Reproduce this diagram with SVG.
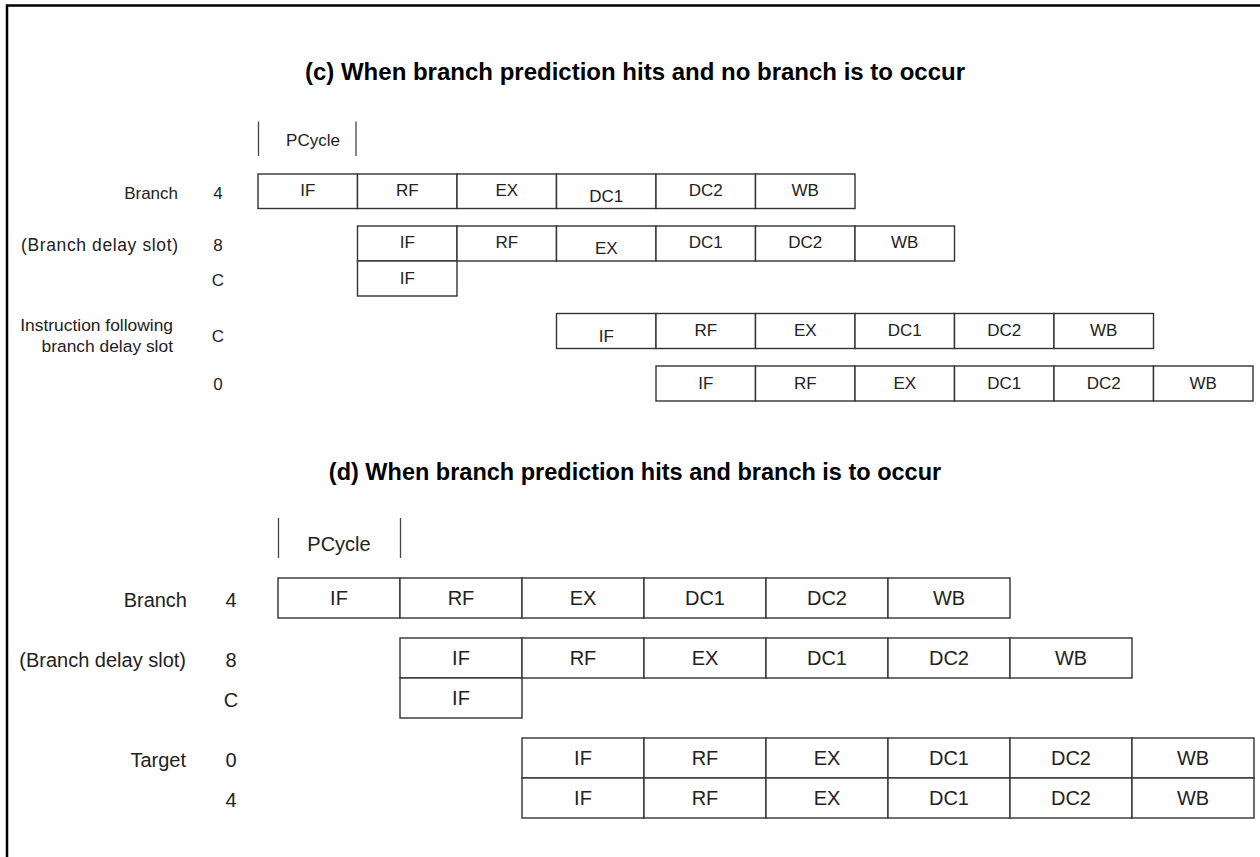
<svg xmlns="http://www.w3.org/2000/svg" width="1260" height="857" viewBox="0 0 1260 857">
<style>
.cell{fill:#fff;stroke:#333;stroke-width:1.4}
.tc{font-family:"Liberation Sans",Arial,sans-serif;font-size:17px;fill:#222;text-anchor:middle}
.td{font-family:"Liberation Sans",Arial,sans-serif;font-size:20px;fill:#222;text-anchor:middle}
.lc{font-family:"Liberation Sans",Arial,sans-serif;font-size:17px;fill:#222;text-anchor:end}
.ld{font-family:"Liberation Sans",Arial,sans-serif;font-size:20px;fill:#222;text-anchor:end}
.title{font-family:"Liberation Sans",Arial,sans-serif;font-size:24px;font-weight:bold;fill:#000;text-anchor:middle}
.tick{stroke:#444;stroke-width:1.3}
</style>
<rect width="1260" height="857" fill="#fff"/>
<path d="M7,870 V5.5 H1270" fill="none" stroke="#000" stroke-width="2.5"/>

<g id="title-c"><text class="title" x="635" y="80">(c) When branch prediction hits and no branch is to occur</text></g>
<g id="pcycle-c">
<line class="tick" x1="258.5" y1="121.5" x2="258.5" y2="156"/>
<line class="tick" x1="356" y1="121.5" x2="356" y2="156"/>
<text class="tc" x="313" y="146">PCycle</text>
</g>

<g id="labels-c">
<text class="lc" x="178" y="199">Branch</text>
<text class="tc" x="218" y="199">4</text>
<text class="lc" x="178" y="251" textLength="157" style="font-size:17.5px">(Branch delay slot)</text>
<text class="tc" x="218" y="251">8</text>
<text class="tc" x="218" y="286">C</text>
<text class="lc" x="173" y="331" style="font-size:17.4px">Instruction following</text>
<text class="lc" x="173" y="352" style="font-size:17.4px">branch delay slot</text>
<text class="tc" x="218" y="342">C</text>
<text class="tc" x="218" y="390">0</text>
</g>

<g id="c-branch">
<rect class="cell" x="258" y="174" width="99.5" height="34.5"/><text class="tc" x="307.75" y="196">IF</text>
<rect class="cell" x="357.5" y="174" width="99.5" height="34.5"/><text class="tc" x="407.25" y="196">RF</text>
<rect class="cell" x="457" y="174" width="99.5" height="34.5"/><text class="tc" x="506.75" y="196">EX</text>
<rect class="cell" x="556.5" y="174" width="99.5" height="34.5"/><text class="tc" x="606.25" y="202">DC1</text>
<rect class="cell" x="656" y="174" width="99.5" height="34.5"/><text class="tc" x="705.75" y="196">DC2</text>
<rect class="cell" x="755.5" y="174" width="99.5" height="34.5"/><text class="tc" x="805.25" y="196">WB</text>
</g>
<g id="c-delay">
<rect class="cell" x="357.5" y="226" width="99.5" height="35"/><text class="tc" x="407.25" y="248">IF</text>
<rect class="cell" x="457" y="226" width="99.5" height="35"/><text class="tc" x="506.75" y="248">RF</text>
<rect class="cell" x="556.5" y="226" width="99.5" height="35"/><text class="tc" x="606.25" y="254">EX</text>
<rect class="cell" x="656" y="226" width="99.5" height="35"/><text class="tc" x="705.75" y="248">DC1</text>
<rect class="cell" x="755.5" y="226" width="99.5" height="35"/><text class="tc" x="805.25" y="248">DC2</text>
<rect class="cell" x="855" y="226" width="99.5" height="35"/><text class="tc" x="904.75" y="248">WB</text>
</g>
<g id="c-c">
<rect class="cell" x="357.5" y="261" width="99.5" height="35"/><text class="tc" x="407.25" y="284">IF</text>
</g>
<g id="c-following">
<rect class="cell" x="556.5" y="313.5" width="99.5" height="35"/><text class="tc" x="606.25" y="342">IF</text>
<rect class="cell" x="656" y="313.5" width="99.5" height="35"/><text class="tc" x="705.75" y="336">RF</text>
<rect class="cell" x="755.5" y="313.5" width="99.5" height="35"/><text class="tc" x="805.25" y="336">EX</text>
<rect class="cell" x="855" y="313.5" width="99.5" height="35"/><text class="tc" x="904.75" y="336">DC1</text>
<rect class="cell" x="954.5" y="313.5" width="99.5" height="35"/><text class="tc" x="1004.25" y="336">DC2</text>
<rect class="cell" x="1054" y="313.5" width="99.5" height="35"/><text class="tc" x="1103.75" y="336">WB</text>
</g>
<g id="c-zero">
<rect class="cell" x="656" y="366" width="99.5" height="35"/><text class="tc" x="705.75" y="389">IF</text>
<rect class="cell" x="755.5" y="366" width="99.5" height="35"/><text class="tc" x="805.25" y="389">RF</text>
<rect class="cell" x="855" y="366" width="99.5" height="35"/><text class="tc" x="904.75" y="389">EX</text>
<rect class="cell" x="954.5" y="366" width="99.5" height="35"/><text class="tc" x="1004.25" y="389">DC1</text>
<rect class="cell" x="1054" y="366" width="99.5" height="35"/><text class="tc" x="1103.75" y="389">DC2</text>
<rect class="cell" x="1153.5" y="366" width="99.5" height="35"/><text class="tc" x="1203.25" y="389">WB</text>
</g>

<g id="title-d"><text class="title" x="635" y="480" style="font-size:23.5px">(d) When branch prediction hits and branch is to occur</text></g>
<g id="pcycle-d">
<line class="tick" x1="278.5" y1="518" x2="278.5" y2="558"/>
<line class="tick" x1="400.5" y1="518" x2="400.5" y2="558"/>
<text class="td" x="339" y="551">PCycle</text>
</g>

<g id="labels-d">
<text class="ld" x="187" y="607">Branch</text>
<text class="td" x="231" y="607">4</text>
<text class="ld" x="186" y="667">(Branch delay slot)</text>
<text class="td" x="231" y="667">8</text>
<text class="td" x="231" y="707">C</text>
<text class="ld" x="186" y="767">Target</text>
<text class="td" x="231" y="767">0</text>
<text class="td" x="231" y="807">4</text>
</g>

<g id="d-branch">
<rect class="cell" x="278" y="578" width="122" height="40"/><text class="td" x="339" y="605">IF</text>
<rect class="cell" x="400" y="578" width="122" height="40"/><text class="td" x="461" y="605">RF</text>
<rect class="cell" x="522" y="578" width="122" height="40"/><text class="td" x="583" y="605">EX</text>
<rect class="cell" x="644" y="578" width="122" height="40"/><text class="td" x="705" y="605">DC1</text>
<rect class="cell" x="766" y="578" width="122" height="40"/><text class="td" x="827" y="605">DC2</text>
<rect class="cell" x="888" y="578" width="122" height="40"/><text class="td" x="949" y="605">WB</text>
</g>
<g id="d-delay">
<rect class="cell" x="400" y="638" width="122" height="40"/><text class="td" x="461" y="665">IF</text>
<rect class="cell" x="522" y="638" width="122" height="40"/><text class="td" x="583" y="665">RF</text>
<rect class="cell" x="644" y="638" width="122" height="40"/><text class="td" x="705" y="665">EX</text>
<rect class="cell" x="766" y="638" width="122" height="40"/><text class="td" x="827" y="665">DC1</text>
<rect class="cell" x="888" y="638" width="122" height="40"/><text class="td" x="949" y="665">DC2</text>
<rect class="cell" x="1010" y="638" width="122" height="40"/><text class="td" x="1071" y="665">WB</text>
</g>
<g id="d-c">
<rect class="cell" x="400" y="678" width="122" height="40"/><text class="td" x="461" y="705">IF</text>
</g>
<g id="d-target0">
<rect class="cell" x="522" y="738" width="122" height="40"/><text class="td" x="583" y="765">IF</text>
<rect class="cell" x="644" y="738" width="122" height="40"/><text class="td" x="705" y="765">RF</text>
<rect class="cell" x="766" y="738" width="122" height="40"/><text class="td" x="827" y="765">EX</text>
<rect class="cell" x="888" y="738" width="122" height="40"/><text class="td" x="949" y="765">DC1</text>
<rect class="cell" x="1010" y="738" width="122" height="40"/><text class="td" x="1071" y="765">DC2</text>
<rect class="cell" x="1132" y="738" width="122" height="40"/><text class="td" x="1193" y="765">WB</text>
</g>
<g id="d-target4">
<rect class="cell" x="522" y="778" width="122" height="40"/><text class="td" x="583" y="805">IF</text>
<rect class="cell" x="644" y="778" width="122" height="40"/><text class="td" x="705" y="805">RF</text>
<rect class="cell" x="766" y="778" width="122" height="40"/><text class="td" x="827" y="805">EX</text>
<rect class="cell" x="888" y="778" width="122" height="40"/><text class="td" x="949" y="805">DC1</text>
<rect class="cell" x="1010" y="778" width="122" height="40"/><text class="td" x="1071" y="805">DC2</text>
<rect class="cell" x="1132" y="778" width="122" height="40"/><text class="td" x="1193" y="805">WB</text>
</g>
<g id="connectors"/>
</svg>
